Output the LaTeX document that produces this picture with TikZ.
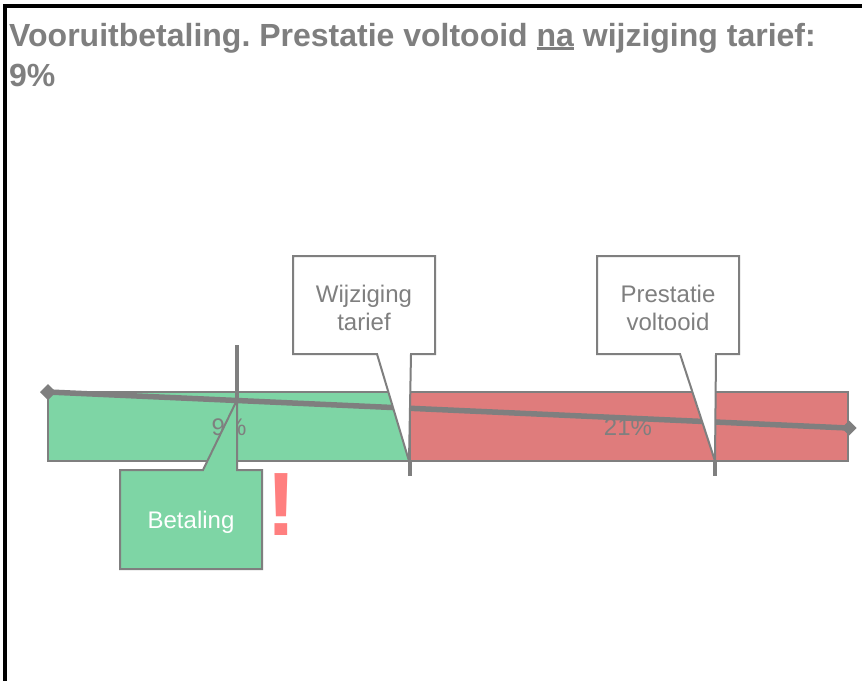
\documentclass[tikz,border=0pt]{standalone}
\usepackage{fontspec}
\setmainfont{Liberation Sans}
\frenchspacing
\definecolor{txtgray}{RGB}{127,127,127}
\definecolor{linegray}{RGB}{127,127,127}
\definecolor{greenf}{RGB}{126,213,165}
\definecolor{redf}{RGB}{223,124,124}
\definecolor{bang}{RGB}{255,127,127}
\tikzset{
  barline/.style={draw=linegray, line width=2.8pt},
  callout/.style={draw=linegray, line width=2pt, line join=miter},
  markerline/.style={draw=linegray, line width=4.8pt},
  rateline/.style={draw=linegray, line width=5.5pt},
  lbl/.style={inner sep=0pt, font=\fontsize{24}{28}\selectfont, align=center},
}
\begin{document}
\begin{tikzpicture}[x=1pt,y=-1pt]
\useasboundingbox (0,0) rectangle (862,680);
\fill[white] (0,0) rectangle (862,680);
% frame
\draw[line width=4pt] (5.3,682) -- (5.3,5.5) -- (864,5.5);
% title
\node[anchor=base west, inner sep=0pt, text=txtgray, font=\fontsize{32}{40}\selectfont\bfseries] (title1) at (9,46)
  {Vooruitbetaling. Prestatie voltooid {\setbox0\hbox{na}\rlap{\rule[-3.6pt]{\wd0}{2.2pt}}na} wijziging tarief:};
\node[anchor=base west, inner sep=0pt, text=txtgray, font=\fontsize{32}{40}\selectfont\bfseries] (title2) at (9,86) {9\%};
% bars
\fill[greenf] (48,392) rectangle (410,461);
\fill[redf] (410,392) rectangle (848,461);
\draw[barline] (48,392) rectangle (410,461);
\draw[barline] (410,392) rectangle (848,461);
% markers below bar
\coordinate (m1a) at (410,461); \coordinate (m1b) at (410,476);
\coordinate (m2a) at (715,461); \coordinate (m2b) at (715,476);
\draw[markerline] (m1a) -- (m1b);
\draw[markerline] (m2a) -- (m2b);
% labels in bars
\node[lbl, text=txtgray, anchor=base] (p9) at (229,435) {9\%};
\node[lbl, text=txtgray, anchor=base] (p21) at (628,435) {21\%};
% rate line
\coordinate (ra) at (48,392); \coordinate (rb) at (848,428);
\draw[rateline] (ra) -- (rb);
\fill[linegray] (48,384) -- (56,392) -- (48,400) -- (40,392) -- cycle;
\fill[linegray] (849,420.5) -- (856.5,428) -- (849,435.5) -- (841.5,428) -- cycle;
% payment marker
\coordinate (pa) at (237,345); \coordinate (pb) at (237,401);
\draw[markerline] (pa) -- (pb);
% Wijziging tarief callout
\path[callout, fill=white] (293,256) -- (435,256) -- (435,354) -- (411,354) -- (409,461) -- (377,354) -- (293,354) -- cycle;
\node[lbl, text=txtgray] (wt) at (364,308) {Wijziging\\tarief};
% Prestatie voltooid callout
\path[callout, fill=white] (597,256) -- (739,256) -- (739,354) -- (716,354) -- (715,461) -- (680,354) -- (597,354) -- cycle;
\node[lbl, text=txtgray] (pv) at (668,308) {Prestatie\\voltooid};
% Betaling callout
\path[callout, fill=greenf] (120,470) -- (203,470) -- (237,400) -- (237,470) -- (262,470) -- (262,569) -- (120,569) -- cycle;
\node[lbl, text=white] (bet) at (191,522) {Betaling};
% exclamation
\node[anchor=base, inner sep=0pt, text=bang, font=\fontsize{90}{90}\selectfont\bfseries] (excl) at (281,535) {!};
\end{tikzpicture}
\end{document}
